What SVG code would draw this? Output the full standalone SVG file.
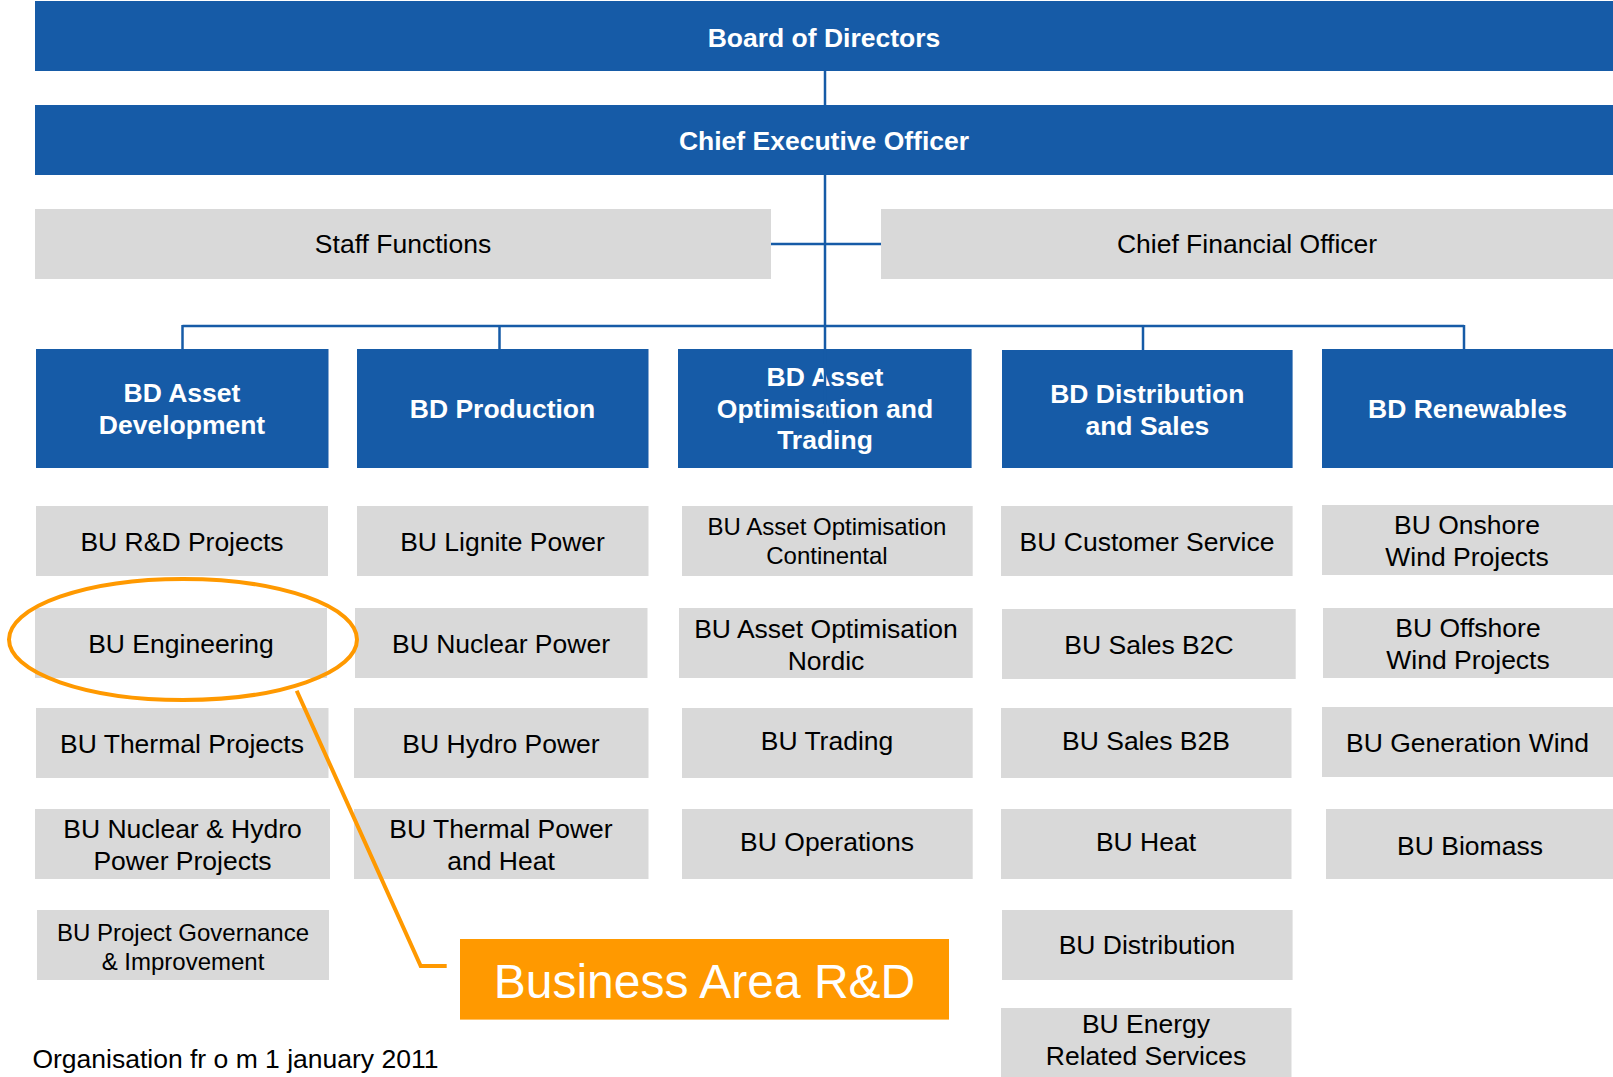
<svg xmlns="http://www.w3.org/2000/svg" width="1613" height="1077" viewBox="0 0 1613 1077">
<style>
.blue{fill:#165BA7}
.grey{fill:#D9D9D9}
.ht{font-family:"Liberation Sans",Arial,sans-serif;font-weight:bold;font-size:26.5px;fill:#FFFFFF;text-anchor:middle}
.t{font-family:"Liberation Sans",Arial,sans-serif;font-size:26.5px;fill:#000000;text-anchor:middle}
.s{font-family:"Liberation Sans",Arial,sans-serif;font-size:24px;fill:#000000;text-anchor:middle}
.c{stroke:#165BA7;stroke-width:2.5;fill:none}
.o{stroke:#FF9900;stroke-width:4;fill:none}
</style>
<rect width="1613" height="1077" fill="#FFFFFF"/>
<g id="board"><rect class="blue" x="35" y="1" width="1578" height="70"/><text class="ht" x="824" y="47">Board of Directors</text></g>
<g id="ceo"><rect class="blue" x="35" y="105" width="1578" height="70"/><text class="ht" x="824" y="150">Chief Executive Officer</text></g>
<g id="staff"><rect class="grey" x="35" y="209" width="736" height="70"/><text class="t" x="403" y="253">Staff Functions</text></g>
<g id="cfo"><rect class="grey" x="881" y="209" width="732" height="70"/><text class="t" x="1247" y="253">Chief Financial Officer</text></g>

<g id="bd-asset-dev"><rect class="blue" x="36" y="349" width="292.5" height="119"/><text class="ht" x="182" y="402">BD Asset</text><text class="ht" x="182" y="434">Development</text></g>
<g id="bd-production"><rect class="blue" x="357" y="349" width="291.5" height="119"/><text class="ht" x="502.5" y="417.5">BD Production</text></g>
<g id="bd-asset-opt"><rect class="blue" x="678" y="349" width="293.6" height="119"/><text class="ht" x="825" y="386">BD Asset</text><text class="ht" x="825" y="417.5">Optimisation and</text><text class="ht" x="825" y="449">Trading</text></g>
<g id="bd-distribution"><rect class="blue" x="1002" y="350" width="290.6" height="118"/><text class="ht" x="1147.3" y="402.5">BD Distribution</text><text class="ht" x="1147.3" y="434.5">and Sales</text></g>
<g id="bd-renewables"><rect class="blue" x="1322" y="349" width="291" height="119"/><text class="ht" x="1467.5" y="417.5">BD Renewables</text></g>

<g id="bu-rd"><rect class="grey" x="36" y="506" width="292" height="70"/><text class="t" x="182" y="550.5">BU R&amp;D Projects</text></g>
<g id="bu-engineering"><rect class="grey" x="35" y="608" width="292" height="70"/><text class="t" x="181" y="652.5">BU Engineering</text></g>
<g id="bu-thermal-projects"><rect class="grey" x="36" y="708" width="292.5" height="70"/><text class="t" x="182" y="752.5">BU Thermal Projects</text></g>
<g id="bu-nuclear-hydro"><rect class="grey" x="35" y="809" width="295" height="70"/><text class="t" x="182.5" y="837.5">BU Nuclear &amp; Hydro</text><text class="t" x="182.5" y="869.5">Power Projects</text></g>
<g id="bu-project-gov"><rect class="grey" x="37" y="910" width="292" height="70"/><text class="s" x="183" y="941">BU Project Governance</text><text class="s" x="183" y="969.5">&amp; Improvement</text></g>

<g id="bu-lignite"><rect class="grey" x="357" y="506" width="291.5" height="70"/><text class="t" x="502.5" y="550.5">BU Lignite Power</text></g>
<g id="bu-nuclear"><rect class="grey" x="355" y="608" width="292.5" height="70"/><text class="t" x="501" y="652.5">BU Nuclear Power</text></g>
<g id="bu-hydro"><rect class="grey" x="354" y="708" width="294.5" height="70"/><text class="t" x="501" y="752.5">BU Hydro Power</text></g>
<g id="bu-thermal-power"><rect class="grey" x="354" y="809" width="294.5" height="70"/><text class="t" x="501" y="837.5">BU Thermal Power</text><text class="t" x="501" y="869.5">and Heat</text></g>

<g id="bu-ao-continental"><rect class="grey" x="682" y="506" width="290.7" height="70"/><text class="s" x="827" y="535">BU Asset Optimisation</text><text class="s" x="827" y="563.5">Continental</text></g>
<g id="bu-ao-nordic"><rect class="grey" x="679" y="608" width="293.7" height="70"/><text class="t" x="826" y="637.5">BU Asset Optimisation</text><text class="t" x="826" y="669.5">Nordic</text></g>
<g id="bu-trading"><rect class="grey" x="682" y="708" width="290.7" height="70"/><text class="t" x="827" y="749.5">BU Trading</text></g>
<g id="bu-operations"><rect class="grey" x="682" y="809" width="290.7" height="70"/><text class="t" x="827" y="850.5">BU Operations</text></g>

<g id="bu-customer"><rect class="grey" x="1001" y="506" width="291.6" height="70"/><text class="t" x="1147" y="550.5">BU Customer Service</text></g>
<g id="bu-b2c"><rect class="grey" x="1002" y="609" width="293.7" height="70"/><text class="t" x="1149" y="653.5">BU Sales B2C</text></g>
<g id="bu-b2b"><rect class="grey" x="1001" y="708" width="290.5" height="70"/><text class="t" x="1146" y="749.5">BU Sales B2B</text></g>
<g id="bu-heat"><rect class="grey" x="1001" y="809" width="290.5" height="70"/><text class="t" x="1146" y="850.5">BU Heat</text></g>
<g id="bu-distribution"><rect class="grey" x="1002" y="910" width="290.6" height="70"/><text class="t" x="1147" y="953.5">BU Distribution</text></g>
<g id="bu-energy"><rect class="grey" x="1001" y="1008" width="290.5" height="69"/><text class="t" x="1146" y="1033">BU Energy</text><text class="t" x="1146" y="1065">Related Services</text></g>

<g id="bu-onshore"><rect class="grey" x="1322" y="505" width="291" height="70"/><text class="t" x="1467" y="534">BU Onshore</text><text class="t" x="1467" y="566">Wind Projects</text></g>
<g id="bu-offshore"><rect class="grey" x="1323" y="608" width="290" height="70"/><text class="t" x="1468" y="637">BU Offshore</text><text class="t" x="1468" y="669">Wind Projects</text></g>
<g id="bu-gen-wind"><rect class="grey" x="1322" y="707" width="291" height="70"/><text class="t" x="1467.5" y="752">BU Generation Wind</text></g>
<g id="bu-biomass"><rect class="grey" x="1326" y="809" width="287" height="70"/><text class="t" x="1470" y="855">BU Biomass</text></g>

<g id="connectors">
<line class="c" x1="825" y1="71" x2="825" y2="105"/>
<line class="c" x1="825" y1="175" x2="825" y2="424"/>
<line class="c" x1="771" y1="244" x2="881" y2="244"/>
<line class="c" x1="182.5" y1="326" x2="1464" y2="326"/>
<line class="c" x1="182.5" y1="325" x2="182.5" y2="349"/>
<line class="c" x1="499.5" y1="325" x2="499.5" y2="349"/>
<line class="c" x1="1143" y1="325" x2="1143" y2="350"/>
<line class="c" x1="1464" y1="325" x2="1464" y2="349"/>
</g>

<g id="highlight">
<ellipse class="o" cx="183" cy="639.5" rx="174" ry="60.5"/>
<polyline class="o" points="296.7,690.7 420.7,966 446.7,966"/>
</g>
<g id="business-area"><rect x="460" y="939" width="489" height="80.6" fill="#FF9900"/><text x="704.5" y="998" font-family="'Liberation Sans',Arial,sans-serif" font-size="48" fill="#FFFFFF" text-anchor="middle">Business Area R&amp;D</text></g>
<text x="32.4" y="1068" font-family="'Liberation Sans',Arial,sans-serif" font-size="26.5" fill="#000000">Organisation fr o m 1 january 2011</text>
</svg>
